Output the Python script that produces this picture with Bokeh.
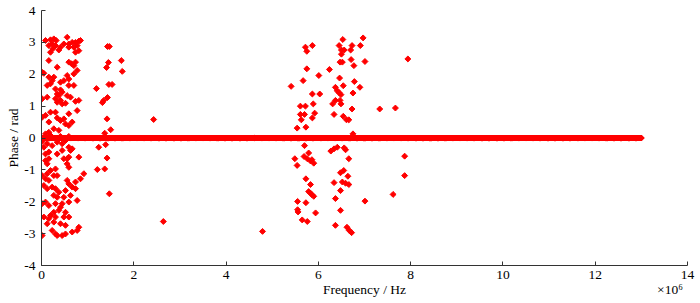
import numpy as np
from bokeh.plotting import figure
from bokeh.models import Range1d, FixedTicker, LinearAxis
from bokeh.embed import file_html
from bokeh.resources import INLINE

# Frequency axis in units of 1e6 Hz
grid_start = 0.0
grid_end = 13.0
grid_count = 1301

# Scattered (non-zero) phase points: frequency (x10^6 Hz) and phase (rad)
low_freq = [0.087, 0.195, 0.267, 0.318, 0.231, 0.159, 0.303, 0.556, 0.484, 0.592, 0.665, 0.737,
            0.809, 0.845, 0.773, 0.701, 0.592, 0.412, 0.376, 0.195, 0.246, 0.737, 0.809, 0.159,
            0.592, 0.737, 0.701, 0.650, 0.340, 0.773, 0.014, 0.051, 0.159, 0.267, 0.231, 0.556,
            0.592, 0.484, 0.412, 0.701, 0.123, 0.195, 0.592, 0.701, 0.303, 0.412, 0.448, 0.340,
            0.014, 0.123, 0.629, 0.556, 0.376, 0.303, 0.340, 0.412, 0.448, 0.520, 0.737, 0.809,
            0.195, 0.303, 0.087, 0.592, 0.773, 0.014, 0.340, 0.412, 0.484, 0.520, 0.665, 0.159,
            0.592, 0.267, 0.376, 0.159, 0.087, 0.195, 0.412, 0.592,
            0.014, 0.051, 0.123, 0.231, 0.340, 0.448, 0.520, 0.592, 0.629, 0.665, 0.087, 0.159,
            0.340, 0.448, 0.809, 0.484, 0.556, 0.592, 0.087, 0.159, 0.123, 0.556, 0.592, 0.303,
            0.014, 0.123, 0.195, 0.267, 0.340, 0.087, 0.159, 0.918, 0.845, 0.737, 0.051, 0.123,
            0.231, 0.303, 0.556, 0.592, 0.520, 0.665, 0.737, 0.267, 0.340, 0.376, 0.484, 0.629,
            0.773, 0.592, 0.014, 0.087, 0.159, 0.303, 0.448, 0.412, 0.376, 0.520, 0.051, 0.195,
            0.267, 0.159, 0.303, 0.484, 0.592, 0.123, 0.267, 0.412, 0.520, 0.809, 0.773, 0.665,
            0.014, 0.231, 0.303, 0.340, 0.448, 0.520]
low_phase = [3.06, 3.08, 3.11, 3.06, 2.95, 2.90, 2.90, 3.16, 2.95, 2.95, 3.00, 3.00,
             3.04, 3.06, 2.90, 2.85, 2.85, 2.85, 2.76, 2.69, 2.80, 2.69, 2.74, 2.43,
             2.38, 2.38, 2.27, 2.33, 2.22, 2.12, 2.06, 2.03, 1.91, 1.91, 1.80, 1.96,
             1.85, 1.80, 1.75, 2.01, 1.65, 1.70, 1.65, 1.65, 1.54, 1.51, 1.44, 1.38,
             1.23, 1.28, 1.28, 1.33, 1.33, 1.23, 1.12, 1.18, 1.07, 1.09, 1.15, 1.18,
             0.81, 0.81, 0.71, 0.76, 0.86, 0.65, 0.63, 0.55, 0.60, 0.44, 0.50, 0.50,
             0.39, 0.29, 0.24, 0.18, 0.13, 0.08, 0.05, 0.05,
             -0.11, -0.29, -0.18, -0.24, -0.13, -0.18, -0.08, -0.29, -0.39, -0.34, -0.50, -0.44,
             -0.50, -0.39, -0.60, -0.65, -0.65, -0.60, -0.71, -0.65, -0.81, -0.81, -0.92, -0.97,
             -1.18, -1.12, -1.02, -1.18, -1.18, -1.28, -1.33, -1.12, -1.28, -1.38, -1.49, -1.59,
             -1.54, -1.59, -1.33, -1.44, -1.65, -1.54, -1.59, -1.80, -1.86, -1.70, -1.86, -1.80,
             -1.96, -2.01, -2.06, -2.01, -2.12, -2.06, -2.06, -2.17, -2.27, -2.33, -2.48, -2.43,
             -2.33, -2.53, -2.48, -2.48, -2.48, -2.69, -2.64, -2.69, -2.74, -2.80, -2.90, -2.95,
             -3.06, -2.90, -3.01, -3.06, -3.06, -3.01]

mid_freq = [1.43, 1.47, 1.45, 1.41, 1.19, 1.43, 1.35, 1.32, 1.46, 1.53, 1.42, 1.50, 1.37,
            1.73, 1.75, 2.43, 1.24, 1.39, 1.42, 1.21, 1.37, 1.47, 2.64, 4.79]
mid_phase = [2.87, 2.87, 2.37, 2.21, 1.55, 1.27, 1.18, 1.11, 1.68, 1.68, 0.60, 0.26, 0.15,
             2.43, 2.09, 0.58, -0.29, -0.21, -0.63, -0.99, -0.97, -1.75, -2.62, -2.93]

high_freq = [6.53, 6.97, 5.72, 5.87, 5.75, 6.45, 6.50, 6.56, 6.70, 6.73, 6.91, 6.50,
             6.47, 6.52, 6.71, 6.77, 7.01, 7.94, 5.75, 6.24, 6.01, 5.67, 5.41, 6.46,
             6.78, 6.54, 6.90, 6.37, 5.87, 6.03, 6.41, 6.45, 6.49, 6.75, 6.37, 6.47,
             6.31, 6.49, 5.89, 5.61, 5.72, 6.73, 7.33, 7.67, 5.92, 5.61, 5.70, 6.34,
             6.54, 6.61, 6.66, 5.63, 5.87, 5.54, 5.73, 6.75,
             5.70, 5.79, 5.49, 5.54, 5.69, 5.76, 5.83, 5.90, 5.86, 6.27, 6.34, 6.41,
             6.56, 6.59, 6.66, 6.48, 6.55, 6.64, 6.34, 6.52, 6.59, 6.66, 6.48, 7.87,
             7.87, 5.73, 5.83, 5.79, 5.83, 5.86, 5.90, 6.37, 7.62, 7.01, 5.55, 5.73,
             5.55, 5.56, 5.94, 6.48, 5.65, 5.76, 6.37, 6.62, 6.67, 6.72]
high_phase = [3.09, 3.14, 2.85, 2.90, 2.72, 2.90, 2.76, 2.76, 2.76, 2.90, 2.90, 2.63,
              2.38, 2.38, 2.46, 2.27, 2.40, 2.48, 2.17, 2.15, 1.96, 1.80, 1.62, 1.88,
              1.77, 1.64, 1.59, 1.59, 1.38, 1.38, 1.48, 1.42, 1.36, 1.41, 1.18, 1.18,
              1.07, 1.07, 1.07, 1.00, 1.00, 0.91, 0.91, 0.94, 0.78, 0.74, 0.74, 0.74,
              0.68, 0.57, 0.57, 0.57, 0.63, 0.31, 0.34, 0.13,
              -0.24, -0.47, -0.65, -0.86, -0.58, -0.65, -0.72, -0.79, -0.68, -0.41, -0.34, -0.29,
              -0.31, -0.37, -0.65, -1.09, -1.02, -1.20, -1.40, -1.38, -1.42, -1.46, -1.65, -0.57,
              -1.18, -1.28, -1.46, -1.68, -1.73, -1.78, -1.83, -1.90, -1.77, -1.98, -1.99, -2.03,
              -2.25, -2.32, -2.35, -2.27, -2.57, -2.62, -2.74, -2.80, -2.90, -2.97]

x_ticks = [0, 2, 4, 6, 8, 10, 12, 14]
y_ticks = [-4, -3, -2, -1, 0, 1, 2, 3, 4]
y_tick_labels = ["-4", "-3", "-2", "-1", "0", "1", "2", "3", "4"]
x_title = "Frequency / Hz"
x_title_pos = 7.0
x_scale_text = "×10⁶"
x_scale_pos = 13.62

FONT = "Liberation Serif"
RED = "#ff0000"

p = figure(width=700, height=303, output_backend="svg", toolbar_location=None,
           x_range=Range1d(0, 14), y_range=Range1d(-4, 4),
           min_border_left=41, min_border_right=13, min_border_top=10, min_border_bottom=38)
p.outline_line_color = None
p.grid.visible = False
p.background_fill_color = "white"
p.border_fill_color = "white"

grid_freq = np.linspace(grid_start, grid_end, grid_count)
grid_phase = np.zeros(grid_count)
marker_kw = dict(marker="square", angle=np.pi / 4, size=4.2, fill_color=RED, line_color=RED)
p.scatter(grid_freq, grid_phase, **marker_kw)
p.scatter(low_freq, low_phase, **marker_kw)
p.scatter(mid_freq, mid_phase, **marker_kw)
p.scatter(high_freq, high_phase, **marker_kw)

p.axis.major_tick_in = 4
p.axis.major_tick_out = 0
p.axis.minor_tick_in = 0
p.axis.minor_tick_out = 0
p.axis.axis_line_color = "#333333"
p.axis.major_tick_line_color = "#333333"
p.axis.major_label_text_font = FONT
p.axis.major_label_text_font_size = "13.5px"
p.axis.major_label_text_color = "black"
p.axis.axis_label_text_font = FONT
p.axis.axis_label_text_font_size = "13.5px"
p.axis.axis_label_text_font_style = "normal"
p.axis.axis_label_text_color = "black"

p.xaxis.ticker = FixedTicker(ticks=x_ticks)
p.yaxis.ticker = FixedTicker(ticks=y_ticks)
p.yaxis.major_label_overrides = {t: s for t, s in zip(y_ticks, y_tick_labels)}
p.yaxis.axis_label = "Phase / rad"
p.xaxis.major_label_standoff = 5
p.yaxis.major_label_standoff = 6
p.yaxis.axis_label_standoff = 0

# second row under the x axis: axis title and the x10^6 multiplier
title_axis = LinearAxis(ticker=FixedTicker(ticks=[x_title_pos, x_scale_pos]),
                        major_label_overrides={x_title_pos: x_title, x_scale_pos: x_scale_text},
                        axis_line_color=None, major_tick_line_color=None,
                        minor_tick_line_color=None, major_tick_in=0, major_tick_out=0,
                        major_label_standoff=0,
                        major_label_text_font=FONT,
                        major_label_text_font_size="13.5px", major_label_text_color="black")
p.add_layout(title_axis, "below")

open("out.html", "w").write(file_html(p, INLINE))
